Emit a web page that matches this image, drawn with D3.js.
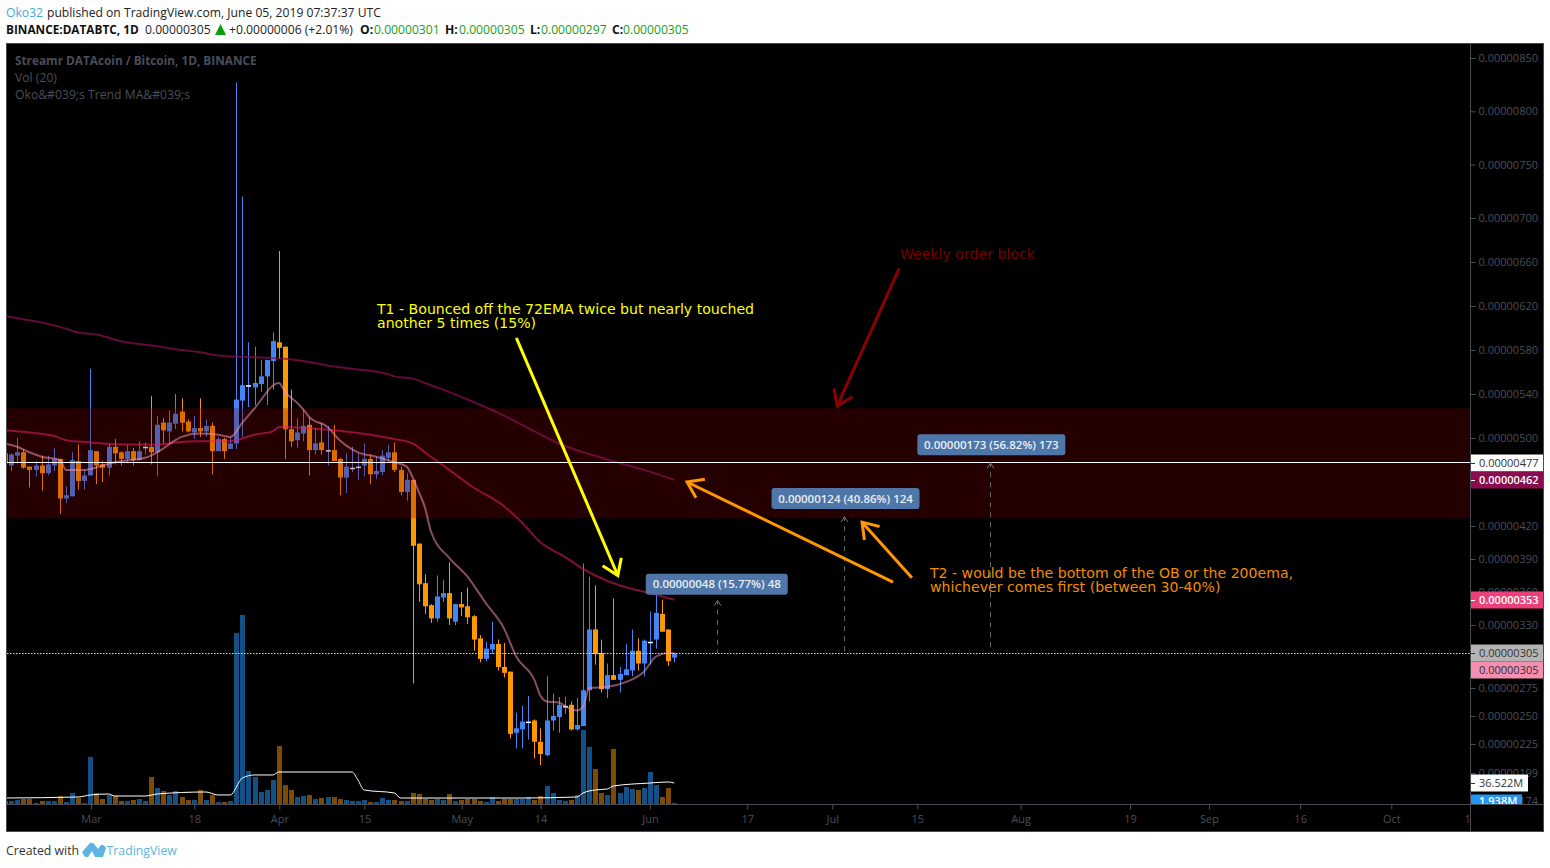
<!DOCTYPE html>
<html>
<head>
<meta charset="utf-8">
<script src="https://cdnjs.cloudflare.com/ajax/libs/d3/7.8.5/d3.min.js"></script>
<style>
html,body{margin:0;padding:0;background:#fff;overflow:hidden}
svg{display:block}
</style>
</head>
<body>
<svg id="c" width="1550" height="868"></svg>
<script>
// Prices are in satoshi (1e-8 BTC). Candle 0 is 2019-02-15, one candle per day.
const firstDay = "2019-02-15";
const opens  = [486,475,484,487,474,471,475,468,475,481,445,447,479,461,466,488,476,473,492,487,481,488,480,492,492,487,514,506,513,524,515,505,509,506,511,488,499,490,495,534,548,546,549,556,570,587,583,508,498,504,512,489,496,489,489,481,464,473,474,475,481,467,469,482,487,471,451,462,404,368,348,336,355,359,333,349,347,338,318,300,308,313,293,289,235,238,245,246,227,215,246,249,259,260,238,241,273,326,305,274,286,282,286,290,307,296,315,317,340,326,301];
const highs  = [490,486,500,490,474,479,484,484,491,481,456,487,494,471,563,488,479,495,499,488,494,491,497,496,538,520,518,525,540,536,517,520,536,517,514,501,500,501,827,720,587,583,571,571,596,670,583,544,518,526,519,509,514,511,512,482,486,492,486,495,485,483,489,494,496,474,468,462,404,376,349,375,371,387,349,360,364,339,321,315,333,317,314,289,253,259,268,247,239,285,270,267,267,263,266,386,374,366,317,296,354,293,313,326,318,317,342,357,353,326,305];
const lows   = [476,470,477,472,455,465,452,466,470,431,441,447,453,453,466,458,460,466,476,475,477,475,479,485,476,465,495,495,508,506,505,499,501,501,467,488,481,490,490,501,528,530,542,530,544,572,481,492,491,497,466,485,485,475,479,448,450,469,462,465,458,463,466,479,469,448,443,279,351,340,332,333,351,330,330,338,331,307,297,298,304,290,284,230,221,221,229,212,206,214,237,235,252,237,237,241,263,295,271,266,282,271,286,285,290,285,295,309,324,294,297];
const closes = [477,485,487,473,471,475,468,476,481,445,448,480,461,466,489,475,473,492,486,481,488,480,488,492,487,512,507,514,522,514,506,509,506,511,488,499,488,495,535,548,548,550,556,571,588,582,508,497,505,511,489,495,489,489,479,464,474,473,474,481,467,470,484,487,471,451,462,402,367,347,336,356,359,336,349,346,337,317,300,309,313,293,288,234,239,245,245,227,216,246,250,260,259,238,242,273,326,304,274,286,282,287,291,307,296,316,315,341,324,298,305];
// Volume in millions of DATA
const volumes = [5.2,5.2,7,8.7,8.7,1.7,5.2,5.2,5.2,13.9,3.5,19.1,10.4,1.7,81.8,19.1,8.7,15.7,13.9,5.2,5.2,7,8.7,5.2,47,27.8,22.6,15.7,22.6,12.2,7,7,24.4,7,15.7,3.5,3.5,5.2,297.5,328.9,57.4,47,20.9,24.4,41.8,100.9,33,24.4,12.2,13.9,15.7,8.7,10.4,12.2,12.2,8.7,7,5.2,5.2,7,3.5,3.5,10.4,7,7,5.2,5.2,19.1,17.4,8.7,7,8.7,7,17.4,5.2,7,8.7,8.7,5.2,3.5,12.2,5.2,8.7,8.7,8.7,8.7,12.2,7,13.9,31.3,19.1,7,5.2,7,15.7,128.8,99.2,60.9,19.1,15.7,95.7,19.1,29.6,26.1,24.4,27.8,55.7,33,12.2,27.8,1.7];

const ema200Days = [0,3,6,9,12,15,19,24,29,32,35,38,43,46,49,53,57,63,64,67,69,71,76,81,86,91,98,105,110];
const ema200     = [611,608,605,601,596,594,588,584,580,578,575,574,573,572,570,566,563,558,556,554,550,546,535,523,509,495,482,471,462];
const ema72Days  = [0,4,8,10,14,16,21,25,27,28,32,37,38,41,44,45,46,52,56,60,64,67,69,71,73,77,82,85,88,90,92,95,97,101,106,110];
const ema72      = [507,505,502,498,496,495,494,494,495,496,497,497,498,503,506,510,510,508,506,503,499,495,487,479,471,455,438,423,405,398,392,381,375,366,359,353];
const ema12Days  = [0,2,4,6,9,10,13,16,18,23,25,28,29,32,35,37,39,41,45,46,48,49,50,53,55,58,61,64,66,67,68,69,70,73,76,79,82,84,87,88,89,91,93,94,95,96,99,102,105,107,109,110];
const ema12      = [495,492,487,483,480,471,471,475,478,482,487,498,501,504,503,501,514,527,550,542,532,526,519,510,498,487,483,478,474,464,451,437,415,391,374,350,327,302,282,268,263,262,256,255,258,275,276,280,289,302,305,305];
const volMaDays  = [0,12,14,17,18,23,25,33,35,37,39,41,44,45,57,58,59,64,65,85,94,95,97,99,100,106,109,110];
const volMa      = [10.4,12.2,15.7,17.4,13.9,13.9,17.4,20.9,15.7,15.7,45.2,50.5,50.5,55.7,55.7,41.8,24.4,19.1,10.4,10.4,12.2,19.1,24.4,26.1,31.3,36.5,38.3,36.5];

const priceTicks = [850,800,750,700,660,620,580,540,500,420,390,360,330,305,275,250,225,199,174];
const timeTicks  = ["2019-03-01","2019-03-18","2019-04-01","2019-04-15","2019-05-01","2019-05-14","2019-06-01","2019-06-17","2019-07-01","2019-07-15","2019-08-01","2019-08-19","2019-09-01","2019-09-16","2019-10-01","2019-10-14"];
const timeLabels = ["Mar","18","Apr","15","May","14","Jun","17","Jul","15","Aug","19","Sep","16","Oct","14"];

const zoneLow = 427, zoneHigh = 527, lastClose = 305, lineLevel = 477;
const measureDays = [117,138,162];
const measureMoves = [48,124,173];
const measureTexts = ["0.00000048 (15.77%) 48","0.00000124 (40.86%) 124","0.00000173 (56.82%) 173"];
const measureBoxDays = [105.3,126.0,150.0];
// annotation arrows as [day, price] pairs
const arrowsYellow = [[[84,591],[100.7,375]]];
const arrowsRed    = [[[147,654],[136.8,529]]];
const arrowsOrange = [[[146,369],[112.1,460]],[[149.1,373],[140.9,423.5]]];

const L=7,R=1470,T=44,B=804,AX=1543,BOTTOM=831;
const parse = d3.utcParse("%Y-%m-%d");
const x = d3.scaleUtc().domain([parse("2019-03-01"),parse("2019-06-01")]).range([91,650]);
const day0 = parse(firstDay);
const xd = i => x(day0) + i*(x(d3.utcDay.offset(day0,1))-x(day0));
const cx = d3.scaleLinear().domain([14,110]).range([90.3,674.3]);
const y = d3.scaleLinear()
  .domain([850,700,500,420,330,305,275,250,225,199])
  .range([58,218,438,526,625,653,688,716,744,773]);
const yv = d3.scaleLinear().domain([0,400]).range([B,B-400/1.74]);

const svg = d3.select("#c");
const defs = svg.append("defs");
defs.append("clipPath").attr("id","plot").append("rect").attr("x",L).attr("y",T).attr("width",R-L).attr("height",B-T);
defs.append("clipPath").attr("id","pax").append("rect").attr("x",R+1).attr("y",T).attr("width",AX-R-1).attr("height",B-T);

const UI = "'Open Sans',sans-serif", DV="'DejaVu Sans',sans-serif";
const DIM="#4a4e5a", UP="#4285f4", DOWN="#ff9800";

svg.append("rect").attr("x",6).attr("y",43).attr("width",1538).attr("height",789).attr("fill","#000");

const plot = svg.append("g").attr("clip-path","url(#plot)");
const idx = d3.range(opens.length);
const isUp = i => closes[i] >= opens[i];
const isDoji = i => closes[i] === opens[i];

// volume
plot.append("g").selectAll("rect").data(idx).join("rect")
  .attr("x",i=>Math.round(cx(i))-2).attr("width",5)
  .attr("y",i=>yv(volumes[i])).attr("height",i=>B-yv(volumes[i]))
  .attr("fill",i=>isUp(i)?"#125086":"#7d4b08");

// candles
const cg = plot.append("g");
const col = i => isDoji(i)?"#ffffff":(isUp(i)?UP:DOWN);
cg.selectAll("line").data(idx).join("line")
  .attr("x1",i=>Math.round(cx(i))+.5).attr("x2",i=>Math.round(cx(i))+.5)
  .attr("y1",i=>y(highs[i])).attr("y2",i=>y(lows[i]))
  .attr("stroke",i=>isDoji(i)?UP:col(i)).attr("stroke-width",1);
cg.selectAll("rect").data(idx).join("rect")
  .attr("x",i=>Math.round(cx(i))-2).attr("width",5)
  .attr("y",i=>y(Math.max(opens[i],closes[i])))
  .attr("height",i=>Math.max(1.5,Math.abs(y(opens[i])-y(closes[i]))))
  .attr("fill",col);

// order-block zone
plot.append("rect").attr("x",L).attr("width",R-L)
  .attr("y",y(zoneHigh)).attr("height",y(zoneLow)-y(zoneHigh))
  .attr("fill","rgb(128,0,0)").attr("fill-opacity",.28);

// moving averages
const path = (days,vals,sc) => d3.line().x((d,i)=>cx(days[i])).y(d=>sc(d)).curve(d3.curveMonotoneX)(vals);
plot.append("path").attr("d",path(ema200Days,ema200,y)).attr("fill","none").attr("stroke","#880e4f").attr("stroke-opacity",.72).attr("stroke-width",2);
plot.append("path").attr("d",path(ema72Days,ema72,y)).attr("fill","none").attr("stroke","#e91e63").attr("stroke-opacity",.55).attr("stroke-width",2);
plot.append("path").attr("d",path(ema12Days,ema12,y)).attr("fill","none").attr("stroke","#f48fb1").attr("stroke-opacity",.55).attr("stroke-width",2);
plot.append("path").attr("d",path(volMaDays,volMa,yv)).attr("fill","none").attr("stroke","#fff").attr("stroke-width",1);

// level lines
plot.append("line").attr("x1",L).attr("x2",R).attr("y1",Math.round(y(lineLevel))-.5).attr("y2",Math.round(y(lineLevel))-.5).attr("stroke","#fff").attr("stroke-width",1);
plot.append("line").attr("x1",L).attr("x2",R).attr("y1",Math.round(y(lastClose))+.5).attr("y2",Math.round(y(lastClose))+.5).attr("stroke","#ddd").attr("stroke-dasharray","1.5 1.5");

// measure tools
measureDays.forEach((d,i)=>{
  const px=Math.round(xd(d))+.5, top=y(lastClose+measureMoves[i]), bot=y(lastClose);
  plot.append("line").attr("x1",px).attr("x2",px).attr("y1",top).attr("y2",bot).attr("stroke","#666").attr("stroke-dasharray","5 5");
  plot.append("path").attr("d",`M${px-3.5},${top+6}L${px},${top+1}L${px+3.5},${top+6}`).attr("fill","none").attr("stroke","#777");
  const bx=xd(measureBoxDays[i]), w=[142,148,148][i], off=[26,28,28][i];
  plot.append("rect").attr("x",bx).attr("y",top-off).attr("width",w).attr("height",21).attr("rx",3).attr("fill","#4f76a8");
  plot.append("text").attr("x",bx+w/2).attr("y",top-off+14.5).attr("text-anchor","middle").attr("font-family",UI).attr("font-size",11.5).attr("font-weight",600).attr("fill","#e8eef5").text(measureTexts[i]);
});

// arrows
function arrow(a,color){
  const p0=[xd(a[0][0]),y(a[0][1])],p1=[xd(a[1][0]),y(a[1][1])];
  const th=Math.atan2(p0[1]-p1[1],p0[0]-p1[0]),len=18,sp=0.6;
  const g=plot.append("g").attr("fill","none").attr("stroke",color).attr("stroke-width",3).attr("stroke-linejoin","miter");
  g.append("line").attr("x1",p0[0]).attr("y1",p0[1]).attr("x2",p1[0]).attr("y2",p1[1]);
  g.append("path").attr("d",`M${p1[0]+len*Math.cos(th-sp)},${p1[1]+len*Math.sin(th-sp)}L${p1[0]},${p1[1]}L${p1[0]+len*Math.cos(th+sp)},${p1[1]+len*Math.sin(th+sp)}`);
}
arrowsYellow.forEach(a=>arrow(a,"#ffff00"));
arrowsRed.forEach(a=>arrow(a,"#8b0000"));
arrowsOrange.forEach(a=>arrow(a,"#ff9800"));

// annotation text
const note=(t,px,py,c)=>plot.append("text").attr("x",px).attr("y",py).attr("font-family",DV).attr("font-size",14.1).attr("fill",c).text(t);
note("T1 - Bounced off the 72EMA twice but nearly touched",377,314,"#ffff00");
note("another 5 times (15%)",377,328,"#ffff00");
note("T2 - would be the bottom of the OB or the 200ema,",930,578,"#f28c00");
note("whichever comes first (between 30-40%)",930,592,"#f28c00");
note("Weekly order block",900,259,"#7a0000");

// axes
const pa = svg.append("g").attr("transform",`translate(${R+.5},0)`)
  .call(d3.axisRight(y).tickValues(priceTicks).tickFormat(d=>(d/1e8).toFixed(8)).tickSize(5).tickPadding(3));
pa.select(".domain").remove();
const ta = svg.append("g").attr("transform",`translate(0,${B+.5})`)
  .call(d3.axisBottom(x).tickValues(timeTicks.map(parse)).tickFormat((d,i)=>timeLabels[i]).tickSize(5).tickPadding(6));
ta.select(".domain").remove();
svg.selectAll(".tick line").attr("stroke",DIM);
svg.selectAll(".tick text").attr("fill",DIM).attr("font-family",UI).attr("font-size",11);
ta.selectAll(".tick").filter((d,i)=>i===timeTicks.length-1).select("line").remove();
// the last label is cut by the price scale
svg.append("rect").attr("x",R+1).attr("y",B+1).attr("width",AX-R-1).attr("height",BOTTOM-B-1).attr("fill","#000");

// price-scale labels
const pl = svg.append("g").attr("clip-path","url(#pax)");
const flag=(val,text,bg,fg,w,bold,sc=y)=>{
  const cy=Math.round(sc(val));
  pl.append("rect").attr("x",R+1).attr("y",cy-8.5).attr("width",w).attr("height",17).attr("fill",bg);
  pl.append("line").attr("x1",R+.5).attr("x2",R+5).attr("y1",cy+.5).attr("y2",cy+.5).attr("stroke",fg);
  pl.append("text").attr("x",R+9).attr("y",cy+4).attr("font-family",UI).attr("font-size",11).attr("font-weight",bold?600:400).attr("fill",fg).text(text);
};
flag(477,"0.00000477","#ffffff","#333",72,false);
flag(462,"0.00000462","#880e4f","#fff",72,true);
flag(353,"0.00000353","#ec407a","#fff",72,true);
flag(305,"0.00000305","#b4b4b4","#333",72,false);
pl.append("g").call(g=>{
  const cy=Math.round(y(305))+17;
  g.append("rect").attr("x",R+1).attr("y",cy-8.5).attr("width",72).attr("height",17).attr("fill","#f48fb1");
  g.append("text").attr("x",R+9).attr("y",cy+4).attr("font-family",UI).attr("font-size",11).attr("fill","#333").text("0.00000305");
});
flag(36.522,"36.522M","#ffffff","#333",57,false,yv);
pl.append("g").call(g=>{
  const cy=Math.round(yv(1.938));
  g.append("rect").attr("x",R+1).attr("y",cy-8.5).attr("width",51).attr("height",17).attr("fill","#2196f3");
  g.append("text").attr("x",R+9).attr("y",cy+2).attr("font-family",UI).attr("font-size",11).attr("font-weight",600).attr("fill","#fff").text("1.938M");
});

// frame
svg.append("rect").attr("x",6.5).attr("y",43.5).attr("width",1537).attr("height",788).attr("fill","none").attr("stroke","#4a4a55");
svg.append("line").attr("x1",R+.5).attr("x2",R+.5).attr("y1",44).attr("y2",BOTTOM).attr("stroke","#4a4a55");
svg.append("line").attr("x1",7).attr("x2",AX).attr("y1",B+.5).attr("y2",B+.5).attr("stroke","#4a4a55");

// legend
const leg=(t,py,b,fs)=>svg.append("text").attr("x",15).attr("y",py).attr("font-family",UI).attr("font-size",fs).attr("font-weight",b?700:400).attr("fill",DIM).text(t);
leg("Streamr DATAcoin / Bitcoin, 1D, BINANCE",65,true,11.8);
leg("Vol (20)",82,false,12.2);
leg("Oko&#039;s Trend MA&#039;s",99,false,12.2);

// header
const hd=(t,px,py,c,b,fs=12.15)=>svg.append("text").attr("x",px).attr("y",py).attr("font-family",UI).attr("font-size",fs).attr("font-weight",b?700:400).attr("fill",c).text(t);
hd("Oko32",6,17,"#3ba9e0");
hd("published on TradingView.com, June 05, 2019 07:37:37 UTC",47,17,"#222");
hd("BINANCE:DATABTC, 1D",6,34,"#111",true,11.8);
hd("0.00000305",145,34,"#222");
svg.append("path").attr("d",d3.line()([[215,35],[226,35],[220.5,24]])+"Z").attr("fill","#0a9d0a");
hd("+0.00000006 (+2.01%)",229,34,"#222");
hd("O:",360,34,"#111",true); hd("0.00000301",374,34,"#13a313");
hd("H:",445,34,"#111",true); hd("0.00000305",459,34,"#13a313");
hd("L:",530,34,"#111",true); hd("0.00000297",541,34,"#13a313");
hd("C:",612,34,"#111",true); hd("0.00000305",623,34,"#13a313");

// footer
hd("Created with",6,855,"#333",false,12.3);
svg.append("path").attr("d","M82,852 L90,843 Q93,842 95,845 L98,849 L101,845 Q104,844 106,848 L103,857 L95,857 L92,851 L88,857 L85,857 Z").attr("fill","#5bb5e0");
hd("TradingView",106.5,855,"#5bb5e0",false,12.3);
</script>
</body>
</html>
